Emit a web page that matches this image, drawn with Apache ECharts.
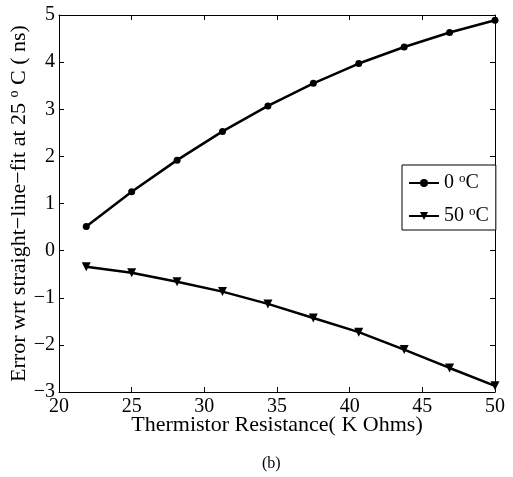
<!DOCTYPE html>
<html>
<head>
<meta charset="utf-8">
<script src="https://cdn.jsdelivr.net/npm/echarts@6/dist/echarts.min.js"></script>
<style>
html, body { margin: 0; padding: 0; background: #fff; }
#main { width: 513px; height: 477px; }
</style>
</head>
<body>
<div id="main"></div>
<script>
var myChart = echarts.init(document.getElementById('main'));

// thermistor resistance (K Ohms)
var resistance = [21.875, 25, 28.125, 31.25, 34.375, 37.5, 40.625, 43.75, 46.875, 50];
// error wrt straight-line fit at 25 C (ns)
var err0C = [0.51, 1.25, 1.92, 2.53, 3.07, 3.55, 3.97, 4.32, 4.63, 4.89];
var err50C = [-0.34, -0.47, -0.66, -0.87, -1.13, -1.43, -1.73, -2.10, -2.49, -2.87];
var seriesNames = ['0 oC', '50 oC'];

function pairs(xs, ys) {
    var out = [];
    for (var i = 0; i < xs.length; i++) {
        out.push([xs[i], ys[i]]);
    }
    return out;
}

var font = 'Liberation Serif, Times New Roman, serif';
var supRich = {
    n: { fontSize: 20, fontFamily: font, color: '#000', lineHeight: 22 },
    s: { fontSize: 13, fontFamily: font, color: '#000', verticalAlign: 'top', lineHeight: 8 }
};
var nameRich = {
    n: { fontSize: 22, fontFamily: font, color: '#000', lineHeight: 24 },
    s: { fontSize: 14, fontFamily: font, color: '#000', verticalAlign: 'top', lineHeight: 9 }
};

function minusFmt(v) {
    return String(v).replace('-', '\u2212');
}

var tickStyle = {
    show: true,
    inside: true,
    length: 5,
    lineStyle: { color: '#000', width: 1 }
};

var option = {
    backgroundColor: '#fff',
    animation: false,
    grid: {
        left: 59,
        right: 18,
        top: 15,
        bottom: 85,
        containLabel: false,
        outerBoundsMode: 'none',
    },
    legend: {
        orient: 'vertical',
        left: 402,
        top: 165,
        padding: [7, 7, 4, 6],
        itemGap: 12,
        itemWidth: 30,
        itemHeight: 10,
        borderColor: '#000',
        borderWidth: 1,
        borderRadius: 0,
        backgroundColor: '#fff',
        formatter: function (name) {
            var parts = name.split(' ');
            return '{n|' + parts[0] + ' }{s|o}{n|C}';
        },
        textStyle: {
            fontSize: 20,
            fontFamily: font,
            color: '#000',
            rich: supRich,
        },
        data: seriesNames,
    },
    graphic: [{
        type: 'text',
        left: 262,
        top: 456,
        style: {
            text: '(b)',
            font: '16px ' + font,
            fill: '#000',
        }
    }],
    xAxis: [{
        type: 'value',
        min: 20,
        max: 50,
        interval: 5,
        name: 'Thermistor Resistance( K Ohms)',
        nameLocation: 'middle',
        nameGap: 22,
        nameMoveOverlap: false,
        nameTextStyle: { fontSize: 22, fontFamily: font, color: '#000' },
        axisLine: { onZero: false, lineStyle: { color: '#000', width: 1 } },
        axisTick: tickStyle,
        axisLabel: { fontSize: 20, fontFamily: font, color: '#000', margin: 5 },
        splitLine: { show: false },
    }, {
        type: 'value',
        position: 'top',
        min: 20,
        max: 50,
        interval: 5,
        axisLine: { onZero: false, lineStyle: { color: '#000', width: 1 } },
        axisTick: tickStyle,
        axisLabel: { show: false },
        splitLine: { show: false },
    }],
    yAxis: [{
        type: 'value',
        min: -3,
        max: 5,
        interval: 1,
        name: '{n|Error wrt straight\u2212line\u2212fit at 25 }{s|o}{n| C ( ns)}',
        nameLocation: 'middle',
        nameGap: 28,
        nameMoveOverlap: false,
        nameTextStyle: { fontSize: 22, fontFamily: font, color: '#000', rich: nameRich },
        axisLine: { onZero: false, lineStyle: { color: '#000', width: 1 } },
        axisTick: tickStyle,
        axisLabel: { fontSize: 20, fontFamily: font, color: '#000', margin: 4, formatter: minusFmt },
        splitLine: { show: false },
    }, {
        type: 'value',
        position: 'right',
        min: -3,
        max: 5,
        interval: 1,
        axisLine: { onZero: false, lineStyle: { color: '#000', width: 1 } },
        axisTick: tickStyle,
        axisLabel: { show: false },
        splitLine: { show: false },
    }],
    series: [{
        name: seriesNames[0],
        type: 'line',
        symbol: 'circle',
        symbolSize: 7,
        lineStyle: { color: '#000', width: 2.5 },
        itemStyle: { color: '#000' },
        data: pairs(resistance, err0C),
    }, {
        name: seriesNames[1],
        type: 'line',
        symbol: 'triangle',
        symbolRotate: 180,
        symbolSize: 9,
        lineStyle: { color: '#000', width: 2.5 },
        itemStyle: { color: '#000' },
        data: pairs(resistance, err50C),
    }]
};
myChart.setOption(option);
</script>
</body>
</html>
